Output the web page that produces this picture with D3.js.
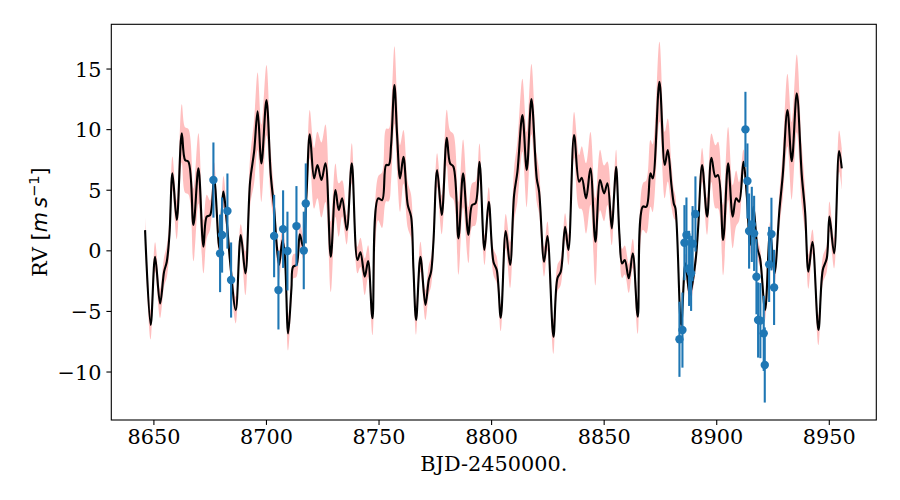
<!DOCTYPE html>
<html>
<head>
<meta charset="utf-8">
<script src="https://cdn.jsdelivr.net/npm/d3@7"></script>
<style>
  body { margin: 0; background: #fff; }
  svg { display: block; }
</style>
</head>
<body>
<svg id="chart" width="900" height="500"></svg>
<script>
// ---- GP model (mean curve) ----
const modelT = [8646.3,8648.8,8650.75,8652.97,8654.75,8655.94,8657.12,8658.45,8660.38,8662.6,8664.08,8665.56,8667.78,8670.0,8672.22,8673.7,8675.18,8676.96,8679.33,8681.11,8682.59,8684.07,8686.58,8688.8,8690.88,8692.95,8694.73,8696.3,8697.99,8700.21,8702.14,8703.62,8704.65,8705.84,8707.32,8708.35,8709.84,8711.32,8712.06,8713.54,8715.02,8716.5,8717.98,8719.46,8721.38,8722.86,8724.64,8726.42,8728.79,8730.86,8732.34,8733.82,8735.89,8738.12,8740.63,8741.96,8743.89,8745.37,8747.3,8749.81,8751.59,8753.36,8754.55,8755.58,8757.06,8758.25,8759.58,8761.06,8762.99,8764.47,8765.5,8766.69,8768.61,8770.83,8772.31,8773.35,8774.39,8776.02,8778.09,8780.31,8781.79,8783.27,8785.49,8787.56,8789.93,8791.56,8793.04,8794.82,8797.04,8798.96,8801.04,8802.51,8804.29,8806.51,8808.44,8810.21,8811.69,8813.91,8815.84,8817.91,8820.28,8821.32,8823.54,8825.02,8827.69,8829.46,8830.94,8832.87,8834.35,8836.86,8839.09,8840.27,8842.19,8844.12,8846.34,8848.41,8850.19,8851.67,8853.6,8854.63,8855.53,8857.01,8858.19,8859.38,8861.15,8862.93,8865.15,8867.37,8869.0,8870.78,8871.81,8874.77,8877.14,8878.48,8880.1,8881.14,8881.88,8884.4,8886.32,8888.25,8890.77,8891.95,8893.73,8895.95,8897.87,8899.65,8900.83,8903.05,8905.28,8907.34,8908.83,8910.16,8912.08,8913.56,8915.04,8916.52,8918.3,8919.49,8921.71,8923.93,8925.85,8928.07,8929.55,8931.63,8933.55,8935.77,8937.99,8939.47,8940.95,8942.73,8945.4,8947.32,8949.1,8950.28,8952.35,8954.58,8955.76];
const modelRV = [1.67,-6.16,-0.53,-4.38,-1.76,-0.94,1.26,6.35,2.5,9.65,7.45,7.31,2.09,6.76,0.3,2.78,2.91,5.94,0.16,4.84,2.36,-0.94,-4.93,1.26,-1.9,5.66,8.14,11.47,7.17,12.4,6.21,3.46,0.71,-1.21,0.85,-0.39,-6.85,-3.14,-1.35,-1.21,1.32,0.3,4.56,9.57,5.94,7.04,5.8,7.18,-0.53,4.97,3.33,4.29,1.67,7.18,-0.8,-0.17,-2.18,-0.88,-5.61,4.29,4.15,7.04,7.04,8.69,13.64,9.51,5.94,7.72,3.74,2.78,-1.49,-5.75,-0.53,-4.51,-2.45,-1.76,0.71,6.62,2.91,9.29,7.17,6.9,0.99,6.35,1.26,3.74,3.87,7.31,0.03,4.01,-0.94,-1.63,-5.56,1.59,-1.21,4.56,6.49,11.16,6.63,12.48,5.94,4.84,-0.94,1.18,-7.13,-2.31,-1.76,1.95,0.03,9.51,5.66,5.99,4.29,6.76,0.71,5.8,4.7,5.53,1.81,4.56,6.9,1.26,-1.08,-0.8,-2.31,-0.25,-5.48,3.6,3.6,6.35,5.94,13.91,7.04,8.28,5.39,3.87,3.46,-6.16,-1.08,-3.69,-0.94,1.81,7.04,2.78,7.64,6.07,6.21,0.85,7.18,2.78,4.29,4.01,7.31,4.56,0.44,3.6,0.16,-0.66,-4.93,1.54,-1.9,3.33,6.21,11.58,7.36,12.95,6.21,3.19,-1.76,0.71,-6.58,-1.63,-0.66,2.78,-0.25,8.19,6.76];
const modelSig = [1.1,1.2,1.2,1.2,1.2,1.3,1.3,1.4,1.6,2.4,2.7,2.7,3.0,2.9,2.2,1.8,1.2,1.3,1.1,1.3,1.0,1.0,1.1,0.9,1.8,2.0,2.6,3.2,3.2,2.9,2.0,1.3,1.2,1.2,1.1,1.1,1.4,1.1,1.0,1.0,1.0,1.0,1.3,2.0,2.5,2.75,3.1,3.2,2.9,2.2,2.2,1.5,1.2,1.65,1.1,1.2,1.5,1.3,1.4,1.8,2.3,3.0,3.0,3.0,3.2,3.0,2.75,2.2,1.9,1.8,1.4,1.24,1.24,1.24,1.2,1.2,1.3,1.4,1.6,2.3,2.7,2.7,3.0,2.8,2.3,1.8,1.8,1.5,1.24,1.2,1.1,1.1,1.1,1.4,1.9,2.2,2.5,3.0,3.1,2.9,2.0,1.8,1.24,1.2,1.4,1.1,1.1,1.1,1.24,1.9,2.2,2.6,2.9,3.0,3.6,2.5,2.3,1.8,1.4,1.4,1.4,1.2,1.2,1.2,1.2,1.2,1.4,1.9,2.2,2.75,2.8,3.3,2.75,2.6,1.8,1.2,1.0,0.8,0.8,0.8,0.8,1.0,1.4,1.5,2.0,2.6,2.75,2.9,3.0,2.6,2.3,1.6,1.0,0.8,0.8,0.8,0.8,0.8,0.8,0.8,0.9,1.4,1.9,3.0,3.2,3.2,2.5,1.8,1.4,1.0,1.24,1.1,1.1,1.24,1.24,1.7,1.7];

// ---- RV observations ----
const obsT = [8676.66,8679.62,8680.51,8682.88,8684.51,8703.62,8705.54,8707.61,8709.54,8713.54,8716.79,8717.68,8883.66,8884.99,8885.88,8886.77,8887.95,8888.84,8889.5,8890.76,8912.97,8913.86,8914.6,8915.8,8916.83,8917.87,8918.6,8919.6,8921.1,8921.56,8923.5,8924.52,8925.7];
const obsRV = [5.8,-0.25,1.26,3.24,-2.45,1.18,-3.28,1.75,-0.06,2.0,-0.01,3.87,-7.34,-6.58,0.63,1.26,-1.49,-1.9,0.55,3.0,9.98,5.72,1.59,2.14,1.4,-2.18,-5.75,-5.8,-6.85,-9.46,-1.16,1.34,-3.06];
const obsErr = [3.1,3.2,3.1,3.1,3.1,3.4,3.25,3.2,3.25,3.3,3.2,3.3,3.1,3.1,3.1,3.1,3.1,3.1,3.1,3.1,3.1,3.1,3.1,3.1,3.1,3.1,3.1,3.1,3.1,3.1,3.1,3.0,3.1];

// ---- axes ----
const xTicks = [8650,8700,8750,8800,8850,8900,8950];
const yTicks = [-10,-5,0,5,10,15];
const xDomain = [8631.3, 8971.1];
const yDomain = [-14.0, 18.65];
const xLabel = "BJD-2450000.";

const L = 111.3, R = 876.3, T = 24.3, B = 420;
const svg = d3.select("#chart");
svg.append("rect").attr("width", 900).attr("height", 500).attr("fill", "#fff");

const x = d3.scaleLinear().domain(xDomain).range([L, R]);
const y = d3.scaleLinear().domain(yDomain).range([B, T]);

const model = modelT.map((t, i) => ({t, v: modelRV[i], s: modelSig[i]}));
const obs = obsT.map((t, i) => ({t, v: obsRV[i], e: obsErr[i]}));

const curve = d3.curveCatmullRom.alpha(0.5);
const g = svg.append("g");

g.append("path")
  .datum(model)
  .attr("d", d3.area().x(d => x(d.t)).y0(d => y(d.v - d.s)).y1(d => y(d.v + d.s)).curve(curve))
  .attr("fill", "#ff0000").attr("fill-opacity", 0.25).attr("stroke", "none");

g.append("path")
  .datum(model)
  .attr("d", d3.line().x(d => x(d.t)).y(d => y(d.v)).curve(curve))
  .attr("fill", "none").attr("stroke", "#000").attr("stroke-width", 2.1)
  .attr("stroke-linejoin", "round");

g.selectAll("line.err").data(obs).join("line").attr("class", "err")
  .attr("x1", d => x(d.t)).attr("x2", d => x(d.t))
  .attr("y1", d => y(d.v - d.e)).attr("y2", d => y(d.v + d.e))
  .attr("stroke", "#1f77b4").attr("stroke-width", 2.1);

g.selectAll("circle.pt").data(obs).join("circle").attr("class", "pt")
  .attr("cx", d => x(d.t)).attr("cy", d => y(d.v)).attr("r", 4.2)
  .attr("fill", "#1f77b4");

// axes
const font = "'DejaVu Serif', serif";
const xAxis = svg.append("g").attr("transform", `translate(0,${B})`)
  .call(d3.axisBottom(x).tickValues(xTicks).tickSize(4.9).tickPadding(6).tickFormat(d3.format("d")));
const yAxis = svg.append("g").attr("transform", `translate(${L},0)`)
  .call(d3.axisLeft(y).tickValues(yTicks).tickSize(4.9).tickPadding(5).tickFormat(d => d < 0 ? "\u2212" + Math.abs(d) : String(d)));
[xAxis, yAxis].forEach(a => {
  a.select(".domain").remove();
  a.selectAll(".tick line").attr("stroke", "#000").attr("stroke-width", 1.1);
  a.selectAll(".tick text").attr("fill", "#000").style("font-family", font).style("font-size", "20.8px");
});
xAxis.selectAll(".tick text").attr("dy", null).attr("y", 24);
yAxis.selectAll(".tick text").attr("dy", "0.36em");

svg.append("rect").attr("x", L).attr("y", T).attr("width", R - L).attr("height", B - T)
  .attr("fill", "none").attr("stroke", "#000").attr("stroke-width", 1.1);

svg.append("text").attr("x", (L + R) / 2).attr("y", 471).attr("text-anchor", "middle")
  .style("font-family", font).style("font-size", "20.8px").text(xLabel);

const yl = svg.append("text").attr("transform", `translate(46.5,${(T + B) / 2}) rotate(-90)`)
  .attr("text-anchor", "middle").style("font-family", font).style("font-size", "20.8px");
yl.append("tspan").text("RV ");
const sans = "'DejaVu Sans', sans-serif";
yl.append("tspan").style("font-family", sans).text("[");
yl.append("tspan").style("font-family", sans).style("font-style", "italic").text("m");
yl.append("tspan").style("font-family", sans).text("\u2009");
yl.append("tspan").style("font-family", sans).style("font-style", "italic").text("s");
yl.append("tspan").style("font-family", sans).style("font-size", "14.6px").attr("dy", "-8").text("\u22121");
yl.append("tspan").style("font-family", sans).attr("dy", "8").text("]");
</script>
</body>
</html>
